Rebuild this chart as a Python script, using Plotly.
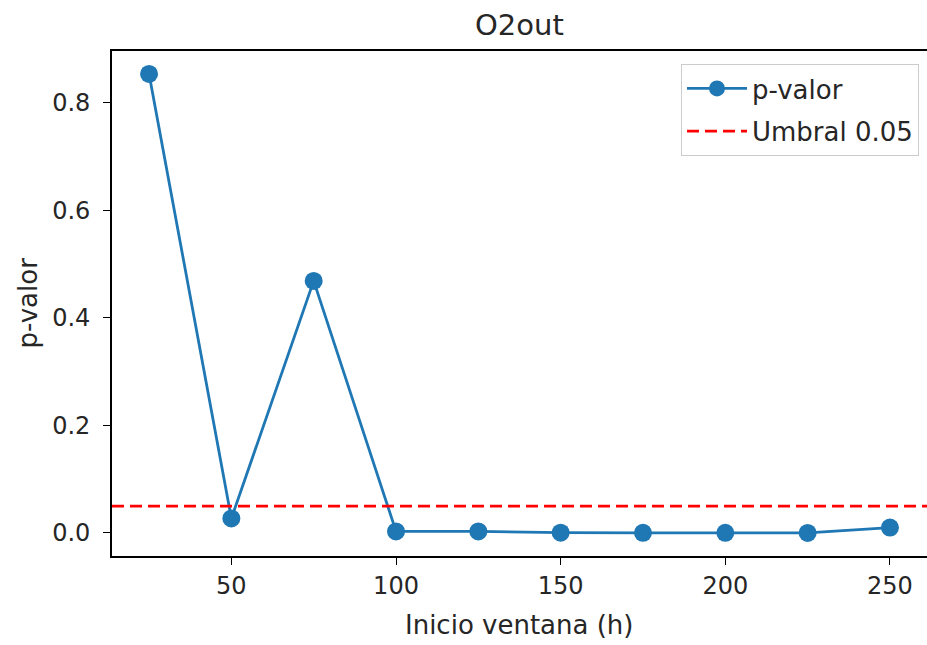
import plotly.graph_objects as go

inicio = [25, 50, 75, 100, 125, 150, 175, 200, 225, 250]
p_valor = [0.854, 0.027, 0.469, 0.003, 0.003, 0.0006, 0.0003, 0.0004, 0.0002, 0.010]
umbral = 0.05
x_ticks = [50, 100, 150, 200, 250]
y_ticks = [0.0, 0.2, 0.4, 0.6, 0.8]

FONT = "DejaVu Sans"
TXT = "#262626"
BLUE = "#1f77b4"
TICK_SIZE = 24
LABEL_SIZE = 26

fig = go.Figure()
fig.add_trace(go.Scatter(
    x=inicio, y=p_valor, mode="lines+markers", name="p-valor", legendgroup="a",
    line=dict(color=BLUE, width=2.8),
    marker=dict(color=BLUE, size=18),
))
fig.add_trace(go.Scatter(
    x=[13.75, 261.25], y=[umbral, umbral], mode="lines", name="Umbral 0.05", legendgroup="b",
    line=dict(color="red", width=2.8, dash="12px,6px"),
))

fig.update_layout(
    width=927, height=645,
    margin=dict(l=112, r=0, t=51, b=89),
    paper_bgcolor="white", plot_bgcolor="white",
    font=dict(family=FONT, size=TICK_SIZE, color=TXT),
    showlegend=True,
    legend=dict(
        x=(919 - 112) / (927 - 112), xanchor="right",
        y=1 - (64 - 51) / (556 - 51), yanchor="top",
        bgcolor="white", bordercolor="#cccccc", borderwidth=1,
        font=dict(family=FONT, size=26, color=TXT),
        itemwidth=60, tracegroupgap=6,
    ),
    xaxis=dict(
        range=[13.75, 261.25], tickvals=x_ticks, ticktext=[str(v) for v in x_ticks],
        showgrid=False, zeroline=False,
        showline=True, linecolor="black", linewidth=1.6, mirror=True,
        ticks="outside", ticklen=7, tickwidth=1.4, tickcolor="black",
        tickfont=dict(family=FONT, size=TICK_SIZE, color=TXT),
    ),
    yaxis=dict(
        range=[-0.0428, 0.8967], tickvals=y_ticks, ticktext=[f"{v:.1f}" for v in y_ticks],
        showgrid=False, zeroline=False,
        showline=True, linecolor="black", linewidth=1.6, mirror=False,
        ticks="outside", ticklen=7, tickwidth=1.4, tickcolor="black",
        tickfont=dict(family=FONT, size=TICK_SIZE, color=TXT),
        ticklabelstandoff=8,
    ),
    annotations=[
        dict(text="O2out", xref="paper", yref="paper", x=0.5, y=1, yanchor="middle",
             yshift=26, showarrow=False, font=dict(family=FONT, size=29, color=TXT)),
        dict(text="p-valor", xref="paper", yref="paper", x=0, y=0.5, xanchor="center",
             yanchor="middle", xshift=-85, textangle=-90, showarrow=False,
             font=dict(family=FONT, size=LABEL_SIZE, color=TXT)),
        dict(text="Inicio ventana (h)", xref="paper", yref="paper", x=0.5, y=0,
             yanchor="middle", yshift=-69, showarrow=False,
             font=dict(family=FONT, size=LABEL_SIZE, color=TXT)),
    ],
)

fig.write_html("out.html")
